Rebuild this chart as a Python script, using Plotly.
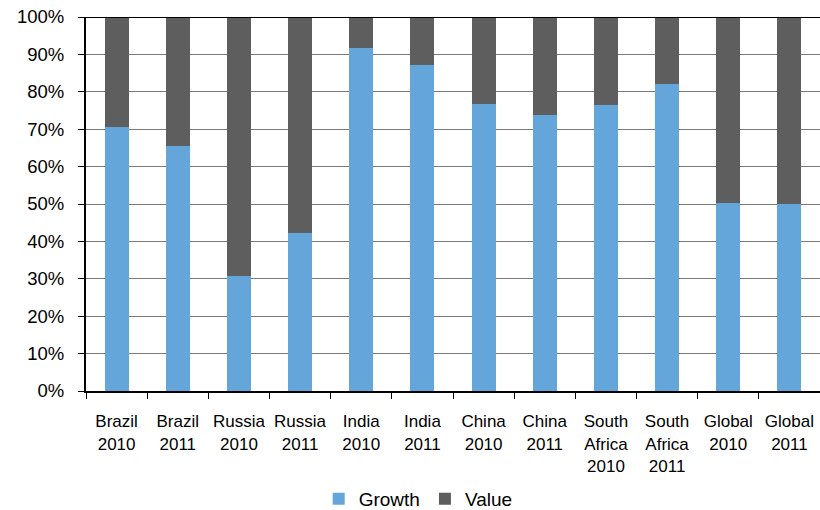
import plotly.graph_objects as go

categories = [
    "Brazil<br>2010", "Brazil<br>2011", "Russia<br>2010", "Russia<br>2011",
    "India<br>2010", "India<br>2011", "China<br>2010", "China<br>2011",
    "South<br>Africa<br>2010", "South<br>Africa<br>2011", "Global<br>2010", "Global<br>2011",
]
growth = [70.6, 65.5, 30.7, 42.2, 91.6, 87.2, 76.8, 73.7, 76.5, 82.1, 50.4, 50.1]
value = [round(100 - g, 1) for g in growth]

tick_vals = [0, 10, 20, 30, 40, 50, 60, 70, 80, 90, 100]
tick_text = [f"{v}%" for v in tick_vals]

font = "Liberation Sans, Arial, sans-serif"

fig = go.Figure()
fig.add_trace(go.Bar(x=categories, y=growth, name="Growth",
                     marker=dict(color="#65A6DA", line=dict(width=0))))
fig.add_trace(go.Bar(x=categories, y=value, name="Value",
                     marker=dict(color="#5E5E5E", line=dict(width=0))))

fig.update_layout(
    width=820, height=510,
    barmode="stack", bargap=0.61,
    paper_bgcolor="white", plot_bgcolor="white",
    margin=dict(l=86, r=0, t=17, b=119),
    showlegend=True,
    legend=dict(orientation="h", xref="container", yref="container",
                x=0.51, xanchor="center", y=0.022, yanchor="middle",
                traceorder="normal",
                font=dict(family=font, size=19, color="black"),
                itemwidth=30, tracegroupgap=0),
    xaxis=dict(type="category", showgrid=False, showline=True,
               linecolor="black", linewidth=2, automargin=False,
               tickangle=0,
               ticks="outside", tickson="boundaries", ticklen=6,
               tickcolor="black", tickwidth=1,
               ticklabelstandoff=14,
               tickfont=dict(family=font, size=17, color="black")),
    yaxis=dict(range=[0, 100], tickvals=tick_vals, ticktext=tick_text,
               showgrid=True, gridcolor="#7a7a7a", gridwidth=1,
               showline=True, linecolor="black", linewidth=2,
               automargin=False,
               ticks="outside", ticklen=6, tickcolor="black",
               ticklabelstandoff=10,
               zeroline=False,
               tickfont=dict(family=font, size=18.5, color="black")),
    shapes=[dict(type="line", xref="paper", yref="y", x0=0, x1=1, y0=100, y1=100,
                 line=dict(color="black", width=2))],
)

fig.write_html("out.html")
